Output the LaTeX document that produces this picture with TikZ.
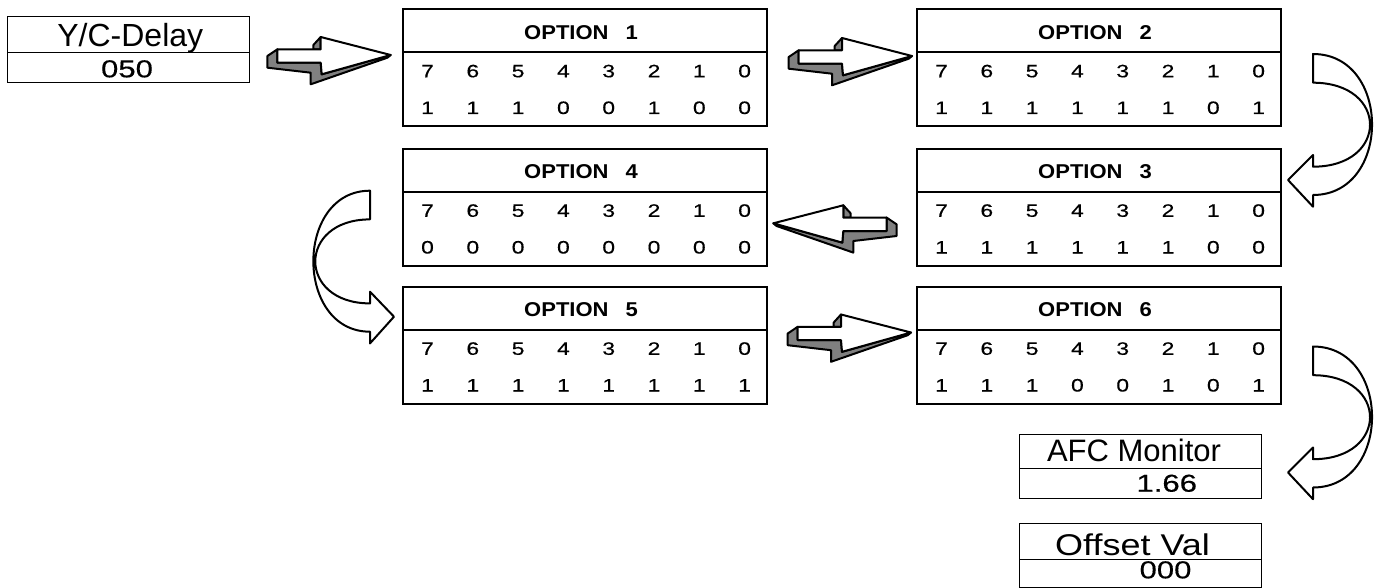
\documentclass[tikz,border=0pt]{standalone}
\usepackage{fontspec}
\setmainfont{Liberation Sans}
\newfontfamily\digfont[FakeStretch=1.27,FakeBold=0.4]{Liberation Sans}
\newfontfamily\hdfont[FakeStretch=1.1]{Liberation Sans}
\newfontfamily\widefont[FakeStretch=1.2]{Liberation Sans}
\usetikzlibrary{calc}

\tikzset{
  obox/.style={draw, line width=2pt, rectangle, inner sep=0pt, outer sep=0pt,
    minimum width=364pt, minimum height=117pt, anchor=north west},
  vbox/.style={draw, line width=1pt, rectangle, inner sep=0pt, outer sep=0pt,
    minimum width=242pt, anchor=north west},
  hd/.style={inner sep=0pt, anchor=base, font=\hdfont\bfseries\fontsize{20}{20}\selectfont},
  dig/.style={inner sep=0pt, anchor=base, font=\digfont\fontsize{18}{18}\selectfont},
  bigtxt/.style={inner sep=0pt, anchor=base, font=\fontsize{32}{32}\selectfont},
  valtxt/.style={inner sep=0pt, anchor=base, font=\digfont\fontsize{24.5}{24.5}\selectfont},
  arrline/.style={draw=black, line width=2pt, line join=round},
  arrgray/.style={fill=black!50},
  blockarrow/.pic={
    \draw[arrline, arrgray] (-113.3,-5.7) -- (-123.3,1) -- (-123.3,12.7) -- (-80,17.7)
      -- (-80,29.3) -- (-3.3,2.7) -- (0,0) -- (-69,19.3) -- (-70,7.7) -- (-113.3,7.7) -- cycle;
    \draw[arrline, arrgray] (-77.3,-5.7) -- (-77.3,-10) -- (-70,-18) -- (-70,-5.7) -- cycle;
    \draw[arrline, fill=white] (-113.3,-5.7) -- (-70,-5.7) -- (-70,-18) -- (0,0)
      -- (-69,19.3) -- (-70,7.7) -- (-113.3,7.7) -- cycle;
  },
  curvearrow/.pic={
    \draw[arrline, fill=white] (0,0) .. controls (78.7,0) and (78.7,141) .. (0,141)
      -- (0,152.7) -- (-25,126) -- (0,101) -- (0,112.7)
      .. controls (76,112.7) and (76,28.7) .. (0,28.7) -- cycle;
  },
}

\newcommand{\optbox}[5]{%
  \node[obox] (#1) at (#2,#3) {};
  \draw[line width=2pt] ($(#1.north west)+(0,43)$) -- ($(#1.north east)+(0,43)$);
  \node[hd] (#1-title) at ($(#1.north west)+(178,29.8)$) {OPTION\hspace{17pt}#4};
  \foreach \d [count=\i from 0] in {7,6,5,4,3,2,1,0}
    \node[dig] (#1-h\i) at ($(#1.north west)+(24.5+45.3*\i,67.8)$) {\d};
  \foreach \d [count=\i from 0] in {#5}
    \node[dig] (#1-b\i) at ($(#1.north west)+(24.5+45.3*\i,104.5)$) {\d};
}

\begin{document}
\begin{tikzpicture}[x=1pt,y=-1pt]
\useasboundingbox (0,0) rectangle (1380,588);

% option tables
\optbox{opt1}{403}{9.5}{1}{1,1,1,0,0,1,0,0}
\optbox{opt2}{917}{9.5}{2}{1,1,1,1,1,1,0,1}
\optbox{opt4}{403}{149}{4}{0,0,0,0,0,0,0,0}
\optbox{opt3}{917}{149}{3}{1,1,1,1,1,1,0,0}
\optbox{opt5}{403}{287}{5}{1,1,1,1,1,1,1,1}
\optbox{opt6}{917}{287}{6}{1,1,1,0,0,1,0,1}

% value boxes
\node[vbox, minimum height=65.6pt] (yc) at (7,16.7) {};
\draw[line width=1pt] ($(yc.north west)+(0,35.6)$) -- ($(yc.north east)+(0,35.6)$);
\node[bigtxt] (yc-t) at ($(yc.north west)+(123.3,30)$) {Y/C-Delay};
\node[valtxt] (yc-v) at ($(yc.north west)+(120,60.6)$) {050};

\node[vbox, minimum height=64pt] (afc) at (1019,434) {};
\draw[line width=1pt] ($(afc.north west)+(0,34)$) -- ($(afc.north east)+(0,34)$);
\node[inner sep=0pt, anchor=base, font=\fontsize{31}{31}\selectfont] (afc-t)
  at ($(afc.north west)+(115,27.7)$) {AFC Monitor};
\node[valtxt] (afc-v) at ($(afc.north west)+(147.7,57.7)$) {1.66};

\node[vbox, minimum height=64pt] (ofs) at (1019,523) {};
\draw[line width=1pt] ($(ofs.north west)+(0,36)$) -- ($(ofs.north east)+(0,36)$);
\node[inner sep=0pt, anchor=base, font=\widefont\fontsize{30}{30}\selectfont] (ofs-t)
  at ($(ofs.north west)+(113.5,32)$) {Offset Val};
\node[valtxt] (ofs-v) at ($(ofs.north west)+(146.5,55.3)$) {000};

% block arrows
\pic at ($(opt1.north west)+(-12.3,45.5)$) {blockarrow};
\pic at ($(opt2.north west)+(-5,46.5)$) {blockarrow};
\pic[xscale=-1] at ($(opt4.north east)+(6.3,74.3)$) {blockarrow};
\pic at ($(opt6.north west)+(-6,45.5)$) {blockarrow};

% curved arrows
\pic at ($(opt2.north east)+(32,44.5)$) {curvearrow};
\pic[xscale=-0.96] at ($(opt4.north west)+(-33,41.7)$) {curvearrow};
\pic at ($(opt6.north east)+(32,59.5)$) {curvearrow};
\end{tikzpicture}
\end{document}
